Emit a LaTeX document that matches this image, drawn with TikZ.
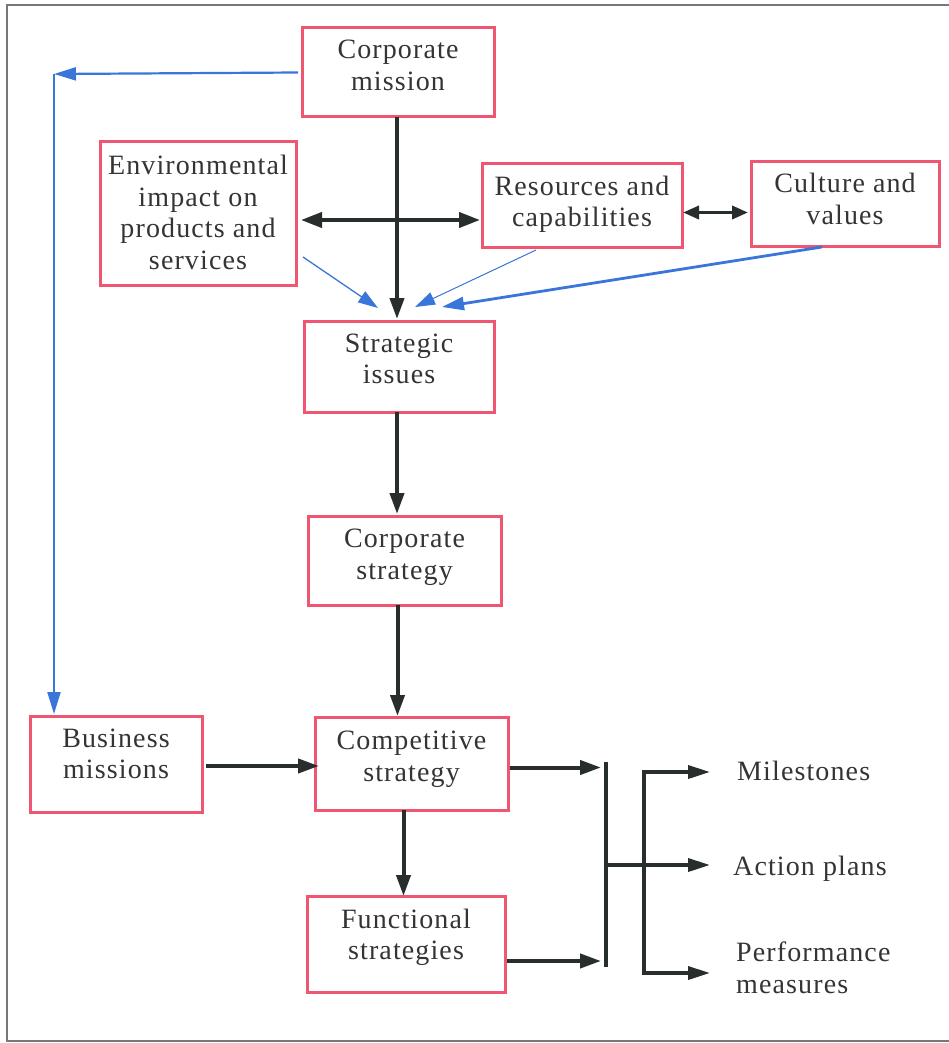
\documentclass[tikz,border=0pt]{standalone}
\usepackage{fontspec}
\setmainfont{Liberation Serif}[LetterSpace=4]
\usetikzlibrary{arrows.meta}

\definecolor{boxred}{RGB}{238,86,114}
\definecolor{flowblue}{RGB}{58,118,218}
\definecolor{ink}{RGB}{40,46,46}
\definecolor{txtgray}{RGB}{52,52,52}
\definecolor{framegray}{RGB}{120,120,120}

% box with its two- to four-line caption: name, x, y, width, height, lift of the text, text
\newcommand{\flowbox}[7]{%
  \node[box, minimum width=#4pt, minimum height=#5pt] (#1) at (#2,#3) {};
  \node[txt] (#1-text) at ([yshift=#6pt]#1.center) {#7};}

\begin{document}
\begin{tikzpicture}[x=1pt,y=-1pt,
  box/.style={draw=boxred, line width=3pt, inner sep=0pt, outer sep=0pt},
  txt/.style={text=txtgray, align=center, inner sep=0pt,
    font=\fontsize{28}{31.5}\selectfont},
  outcome/.style={txt, anchor=west, align=left},
  blk/.style={draw=ink, line width=4pt, -{Triangle[length=21pt,width=14pt]}},
  dbl/.style={draw=ink, line width=4pt,
    {Triangle[length=21pt,width=15pt]}-{Triangle[length=21pt,width=15pt]}},
  dblsmall/.style={draw=ink, line width=3.5pt,
    {Triangle[length=16pt,width=13pt]}-{Triangle[length=16pt,width=13pt]}},
  blu/.style={draw=flowblue, line width=2.2pt, -{Triangle[length=22pt,width=13pt]}},
  bluthin/.style={draw=flowblue, line width=1.3pt, -{Triangle[length=20pt,width=13pt]}},
]
\useasboundingbox (0,0) rectangle (949,1043);
\fill[white] (0,0) rectangle (949,1043);

% outer frame
\draw[framegray, line width=2pt] (949,5) -- (7,5) -- (7,1041) -- (949,1041);

% boxes
\flowbox{cm}{398}{72.5}{192}{89}{7}{Corporate\\mission}
\flowbox{env}{198}{213.5}{196}{143}{1}{Environmental\\impact on\\products and\\services}
\flowbox{res}{582}{205.5}{200}{83}{1}{Resources and\\capabilities}
\flowbox{cul}{845}{204}{188}{84}{5}{Culture and\\values}
\flowbox{si}{399}{366.5}{190}{91}{7.5}{Strategic\\issues}
\flowbox{cs}{404.5}{560.5}{193}{89}{3.5}{Corporate\\strategy}
\flowbox{bm}{116}{764}{172}{96}{10}{Business\\missions}
\flowbox{comp}{411.5}{763.5}{193}{93}{4.5}{Competitive\\strategy}
\flowbox{fs}{406}{944}{198}{96}{6.5}{Functional\\strategies}

% outcomes on the right
\node[outcome, text height=19pt, text depth=7pt] (ms) at (737,774) {Milestones};
\node[outcome, text height=19pt, text depth=7pt] (ap) at (733,869) {Action plans};
\node[outcome] (pm) at (736,968) {Performance\\measures};

% helper points
\coordinate (bend) at (54,74);
\coordinate (hy) at (0,220);
\coordinate (barT) at (606,762);
\coordinate (barB) at (606,967);
\coordinate (barL) at (599,762);
\coordinate (stem) at (606,865);
\coordinate (brT) at (644,772);
\coordinate (brB) at (644,973);
\coordinate (tips) at ([xshift=-23pt]ap.west);

% blue feedback to business missions
\draw[blu] ([xshift=-4pt]cm.west) -- (bend);
\draw[blu] (bend) -- ([yshift=2pt]bend |- bm.north);

% blue influences on strategic issues
\draw[bluthin] ([xshift=7pt,yshift=-43.5pt]env.east) -- ([xshift=-21pt,yshift=13pt]si.north);
\draw[bluthin, line width=1pt] ([xshift=-46pt,yshift=-3pt]res.south) -- ([xshift=16pt,yshift=14pt]si.north);
\draw[blu, line width=2.8pt] ([xshift=-23pt,yshift=-1pt]cul.south) -- ([xshift=43pt,yshift=14pt]si.north);

% main vertical flow
\draw[blk] ([xshift=-1pt]cm.south) -- ([xshift=-1pt,yshift=2pt]cm.south |- si.north);
\draw[dbl] ([xshift=5pt]env.east |- hy) -- ([xshift=-2pt]res.west |- hy);
\draw[dblsmall] ([xshift=1pt,yshift=-7pt]res.east) -- ([xshift=-3pt,yshift=-7pt]res.east -| cul.west);
\draw[blk] ([xshift=-2pt]si.south) -- ([xshift=-2pt,yshift=2pt]si.south |- cs.north);
\draw[blk] ([xshift=-7pt]cs.south) -- ([xshift=-7pt,yshift=1pt]cs.south |- comp.north);
\draw[blk] ([xshift=-8pt]comp.south) -- ([xshift=-8pt]comp.south |- fs.north);
\draw[blk] ([xshift=4pt,yshift=-2pt]bm.east) -- ([xshift=4pt,yshift=-2pt]bm.east -| comp.west);

% into the bar and out to the outcomes
\draw[blk] ([xshift=2pt,yshift=-4pt]comp.east) -- ([xshift=2pt,yshift=-4pt]comp.east -| barL);
\draw[blk] ([xshift=2pt,yshift=-17pt]fs.east) -- ([xshift=2pt,yshift=-17pt]fs.east -| barL);
\draw[ink, line width=4pt] (barT) -- (barB);
\draw[blk, line width=3.6pt, -{Triangle[length=22pt,width=13pt]}] (stem) -- (stem -| tips);
\draw[ink, line width=3.6pt, line join=miter,
  {Triangle[length=22pt,width=13pt]}-{Triangle[length=22pt,width=13pt]}]
  (brT -| tips) -- (brT) -- (brB) -- (brB -| tips);
\end{tikzpicture}
\end{document}
